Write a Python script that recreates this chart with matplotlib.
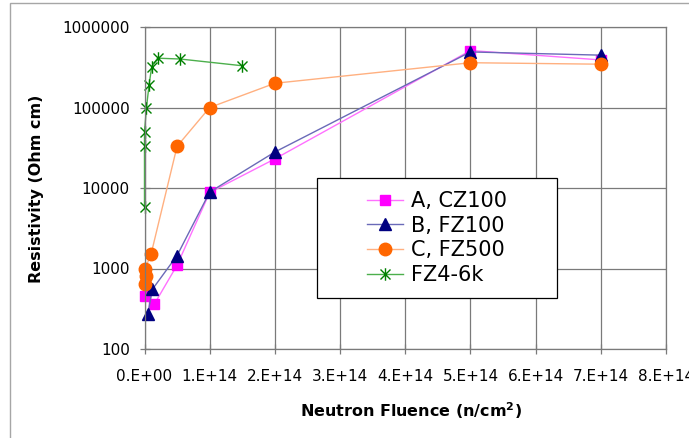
import matplotlib
matplotlib.use("Agg")
import matplotlib.pyplot as plt
from matplotlib.patches import Rectangle
from matplotlib.path import Path
from matplotlib.ticker import FixedLocator, FixedFormatter, NullLocator

plt.rcParams['font.family'] = ['DejaVu Sans']

# Resistivity (Ohm cm) versus neutron fluence (n/cm^2)
fluence_a = [1e12, 1.5e13, 5e13, 1e14, 2e14, 5e14, 7e14]
rho_a = [450, 360, 1100, 8800, 23000, 510000, 390000]

fluence_b = [5e12, 1.2e13, 5e13, 1e14, 2e14, 5e14, 7e14]
rho_b = [270, 550, 1450, 8900, 28000, 490000, 447000]

fluence_c = [1e12, 2e12, 1e12, 1e13, 5e13, 1e14, 2e14, 5e14, 7e14]
rho_c = [650, 800, 1000, 1500, 33000, 100000, 200000, 360000, 345000]

fluence_d = [0, 0, 0, 3e12, 7e12, 1.1e13, 2e13, 5.5e13, 1.5e14]
rho_d = [5800, 33000, 50000, 100000, 190000, 320000, 410000, 400000, 330000]

series_labels = ['A, CZ100', 'B, FZ100', 'C, FZ500', 'FZ4-6k']

x_ticks = [0, 1e14, 2e14, 3e14, 4e14, 5e14, 6e14, 7e14, 8e14]
x_tick_labels = ['0.E+00', '1.E+14', '2.E+14', '3.E+14', '4.E+14',
                 '5.E+14', '6.E+14', '7.E+14', '8.E+14']
y_ticks = [100, 1000, 10000, 100000, 1000000]
y_tick_labels = ['100', '1000', '10000', '100000', '1000000']

W, H = 689, 438
fig = plt.figure(figsize=(W / 100, H / 100), dpi=100)

# outer chart frame
fig.add_artist(Rectangle((10 / W, -0.1), 1.2, (H - 3) / H + 0.1,
                         transform=fig.transFigure, fill=False,
                         edgecolor='#a6a6a6', lw=1.0, zorder=0))

x0, x1, ytop, ybot = 144.5, 666, 27, 349
ax = fig.add_axes([x0 / W, (H - ybot) / H, (x1 - x0) / W, (ybot - ytop) / H])

# asterisk marker: vertical bar plus two diagonals
star = Path([(0, -1), (0, 1), (-0.8, -0.8), (0.8, 0.8), (-0.8, 0.8), (0.8, -0.8)],
            [Path.MOVETO, Path.LINETO, Path.MOVETO, Path.LINETO, Path.MOVETO, Path.LINETO])

la, = ax.plot(fluence_a, rho_a, color='#ff70ff', lw=1.0, marker='s', ms=7.5,
              mfc='#ff00ff', mec='#ff00ff', label=series_labels[0], clip_on=False)
lb, = ax.plot(fluence_b, rho_b, color='#6a6ab8', lw=1.0, marker='^', ms=9,
              mfc='#000080', mec='#000080', label=series_labels[1], clip_on=False)
lc, = ax.plot(fluence_c, rho_c, color='#ffb080', lw=1.0, marker='o', ms=9,
              mfc='#ff6600', mec='#ff6600', label=series_labels[2], clip_on=False)
ld, = ax.plot(fluence_d, rho_d, color='#4caf4c', lw=1.0, marker=star, ms=9,
              mfc='none', mec='#008000', mew=1.0, label=series_labels[3], clip_on=False)

ax.set_yscale('log')
ax.set_xlim(0, 8e14)
ax.set_ylim(100, 1e6)
ax.xaxis.set_major_locator(FixedLocator(x_ticks))
ax.xaxis.set_major_formatter(FixedFormatter(x_tick_labels))
ax.yaxis.set_major_locator(FixedLocator(y_ticks))
ax.yaxis.set_major_formatter(FixedFormatter(y_tick_labels))
ax.yaxis.set_minor_locator(NullLocator())
ax.xaxis.set_minor_locator(NullLocator())

gcol = '#7a7a7a'
ax.grid(True, which='major', color=gcol, lw=0.9)
ax.set_axisbelow(True)
for s in ax.spines.values():
    s.set_color(gcol)
    s.set_linewidth(0.9)
ax.tick_params(axis='both', direction='inout', length=7, width=0.9,
               color=gcol, labelsize=11, labelcolor='black')
ax.tick_params(axis='x', pad=11)
ax.tick_params(axis='y', pad=7)

ax.set_xlabel('Neutron Fluence (n/cm$^\\mathbf{2}$)', fontsize=11.5, fontweight='bold')
ax.set_ylabel('Resistivity (Ohm cm)', fontsize=11.5, fontweight='bold')
ax.xaxis.set_label_coords((411 - x0) / (x1 - x0), (ybot - 411) / (ybot - ytop))
ax.xaxis.label.set_va('center')
ax.yaxis.set_label_coords((37 - x0) / (x1 - x0), (ybot - 189) / (ybot - ytop))
ax.yaxis.label.set_va('center')

# legend box
lx0, ly0, lx1, ly1 = 317, 178, 557, 298
fig.add_artist(Rectangle((lx0 / W, (H - ly1) / H), (lx1 - lx0) / W, (ly1 - ly0) / H,
                         transform=fig.transFigure, facecolor='white',
                         edgecolor='black', lw=0.9, zorder=4))
fig.legend(handles=[la, lb, lc, ld], loc='center',
           bbox_to_anchor=((lx0 + lx1) / 2 / W, 1 - (ly0 + ly1) / 2 / H),
           bbox_transform=fig.transFigure, frameon=False, fontsize=15,
           handlelength=1.75, handletextpad=0.4, labelspacing=0.22,
           numpoints=1, borderpad=0.2)

fig.savefig('out.png', dpi=100)
